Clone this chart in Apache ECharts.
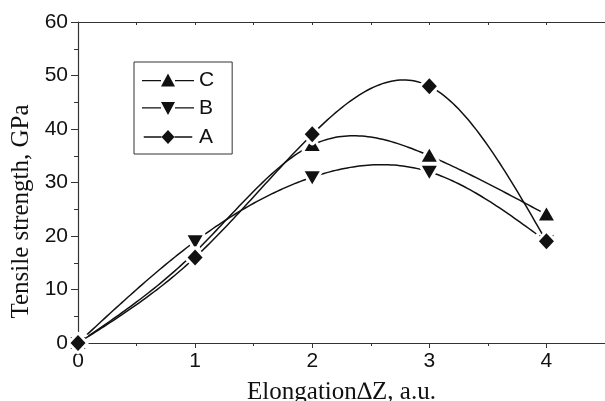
<!DOCTYPE html>
<html><head><meta charset="utf-8">
<script src="https://cdn.jsdelivr.net/npm/echarts@6/dist/echarts.min.js"></script>
<style>html,body{margin:0;padding:0;background:#fff}#c{width:605px;height:401px}</style>
</head><body><div id="c"></div>
<script>
const xValues = [0, 1, 2, 3, 4];
const seriesC = [0, 17, 37, 35, 24];
const seriesB = [0, 19, 31, 32, 19];
const seriesA = [0, 16, 39, 48, 19];
const yTicks = [0, 10, 20, 30, 40, 50, 60];

const col = '#111';

// natural cubic spline second derivatives (rendering only)
function splineM(xs, ys) {
  const n = xs.length, M = new Array(n).fill(0);
  if (n < 3) return M;
  const a = [], b = [], c = [], d = [];
  for (let i = 1; i < n - 1; i++) {
    const h0 = xs[i] - xs[i - 1], h1 = xs[i + 1] - xs[i];
    a.push(h0); b.push(2 * (h0 + h1)); c.push(h1);
    d.push(6 * ((ys[i + 1] - ys[i]) / h1 - (ys[i] - ys[i - 1]) / h0));
  }
  const m = b.length;
  for (let i = 1; i < m; i++) {
    const w = a[i] / b[i - 1];
    b[i] -= w * c[i - 1]; d[i] -= w * d[i - 1];
  }
  const sol = new Array(m);
  sol[m - 1] = d[m - 1] / b[m - 1];
  for (let i = m - 2; i >= 0; i--) sol[i] = (d[i] - c[i] * sol[i + 1]) / b[i];
  for (let i = 0; i < m; i++) M[i + 1] = sol[i];
  return M;
}

function markerPts(kind, cx, cy) {
  if (kind === 'up') return [[cx, cy - 7], [cx - 7.5, cy + 6], [cx + 7.5, cy + 6]];
  if (kind === 'down') return [[cx, cy + 7], [cx - 7.5, cy - 6], [cx + 7.5, cy - 6]];
  return [[cx, cy - 8], [cx + 7.5, cy], [cx, cy + 8], [cx - 7.5, cy]];
}

function mk(name, ys, kind) {
  const M = splineM(xValues, ys);
  return {
    name: name, type: 'custom',
    itemStyle: { color: col },
    data: xValues.map((x, i) => [x, ys[i]]),
    encode: { x: 0, y: 1 },
    renderItem: function (params, api) {
      const i = params.dataIndex;
      const children = [];
      if (i < xValues.length - 1) {
        const x0 = xValues[i], x1 = xValues[i + 1], h = x1 - x0;
        const pts = [];
        for (let k = 0; k <= 40; k++) {
          const t = k / 40, u = 1 - t;
          const y = u * ys[i] + t * ys[i + 1] +
            ((u * u * u - u) * M[i] + (t * t * t - t) * M[i + 1]) * h * h / 6;
          pts.push(api.coord([x0 + t * h, y]));
        }
        children.push({ type: 'polyline', shape: { points: pts },
          style: { stroke: col, lineWidth: 1.5, fill: null } });
      }
      const c = api.coord([xValues[i], ys[i]]);
      const p = markerPts(kind, c[0], c[1]);
      children.push({ type: 'polygon', shape: { points: p },
        style: { fill: '#fff', stroke: '#fff', lineWidth: 6, lineJoin: 'round' } });
      children.push({ type: 'polygon', shape: { points: p },
        style: { fill: col, stroke: null } });
      return { type: 'group', children: children };
    }
  };
}

const iconUp = 'path://M0,6.4H19V7.8H0Z M19,13L26,0L33,13Z M33,6.4H52V7.8H33Z';
const iconDown = 'path://M0,5.2H19V6.6H0Z M19,0L33,0L26,13Z M33,5.2H52V6.6H33Z';
const iconDia = 'path://M0,6.8H19V8.2H0Z M26,0L33,7.5L26,15L19,7.5Z M33,6.8H52V8.2H33Z';

const chart = echarts.init(document.getElementById('c'));
chart.setOption({
  animation: false,
  backgroundColor: '#fff',
  color: [col],
  grid: { left: 78, right: 0, top: 22, bottom: 58, containLabel: false, outerBoundsMode: 'none' },
  legend: {
    orient: 'vertical', left: 134, top: 62,
    data: [{ name: 'C', icon: iconUp }, { name: 'B', icon: iconDown }, { name: 'A', icon: iconDia }],
    itemWidth: 52, itemHeight: 14, itemGap: 6.5,
    borderColor: '#333', borderWidth: 1, padding: [7, 18, 6, 8],
    textStyle: { fontFamily: 'Liberation Sans', fontSize: 21, lineHeight: 22, color: '#111' }
  },
  xAxis: [{
    type: 'value', min: 0, max: 4.5, interval: 1,
    name: 'Elongation\u2206Z, a.u.', nameLocation: 'middle', nameGap: 37,
    nameTextStyle: { fontFamily: 'Liberation Serif', fontSize: 25, color: '#111' },
    axisLine: { lineStyle: { color: '#333', width: 1.2 } },
    axisTick: { show: true, inside: false, length: 5, lineStyle: { color: '#333' } },
    minorTick: { show: true, splitNumber: 2, length: 3, lineStyle: { color: '#333' } },
    axisLabel: { showMaxLabel: false, fontFamily: 'Liberation Sans', fontSize: 21, color: '#111', margin: 8,
      formatter: v => (Number.isInteger(v) ? String(v) : '') },
    splitLine: { show: false }
  }, {
    type: 'value', position: 'top', min: 0, max: 4.5, interval: 1,
    axisLine: { show: true, lineStyle: { color: '#333', width: 1.2 } },
    axisTick: { show: true, inside: true, length: 3, lineStyle: { color: '#333' } },
    minorTick: { show: true, splitNumber: 2, length: 3, lineStyle: { color: '#333' } },
    axisLabel: { show: false }, splitLine: { show: false }
  }],
  yAxis: {
    type: 'value', min: yTicks[0], max: yTicks[yTicks.length - 1], interval: 10,
    name: 'Tensile strength, GPa', nameLocation: 'middle', nameGap: 42,
    nameTextStyle: { fontFamily: 'Liberation Serif', fontSize: 25, color: '#111', padding: [0, 58, 0, 0] },
    axisLine: { show: true, lineStyle: { color: '#333', width: 1.2 } },
    axisTick: { show: true, inside: false, length: 7, lineStyle: { color: '#333' } },
    minorTick: { show: true, splitNumber: 2, length: 4, lineStyle: { color: '#333' } },
    axisLabel: { fontFamily: 'Liberation Sans', fontSize: 21, color: '#111', margin: 10 },
    splitLine: { show: false }
  },
  series: [mk('C', seriesC, 'up'), mk('B', seriesB, 'down'), mk('A', seriesA, 'diamond')]
});
</script></body></html>
